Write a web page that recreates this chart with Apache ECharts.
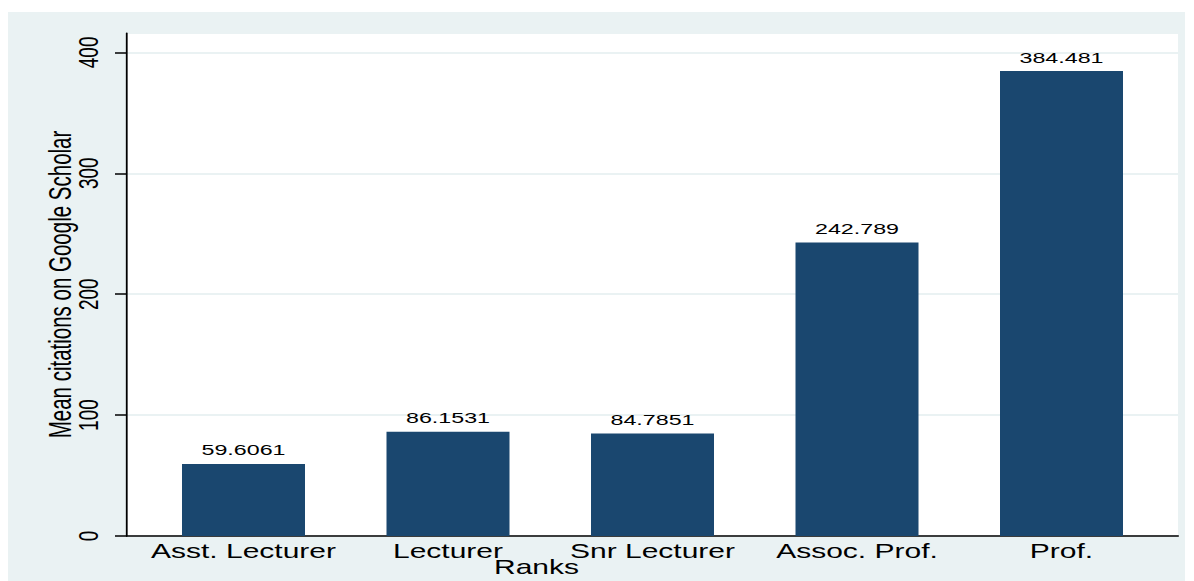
<!DOCTYPE html>
<html><head><meta charset="utf-8">
<script src="https://cdn.jsdelivr.net/npm/echarts@6/dist/echarts.min.js"></script>
<style>
html,body{margin:0;padding:0;background:#fff;overflow:hidden;width:1194px;height:581px;}
#bg{position:absolute;left:8px;top:12px;width:1177px;height:569px;background:#eaf2f3;}
#chart{position:absolute;left:0;top:0;width:796px;height:581px;transform:scaleX(1.5);transform-origin:0 0;}
</style></head><body>
<div id="bg"></div><div id="chart"></div>
<script>
const categories = ['Asst. Lecturer', 'Lecturer', 'Snr Lecturer', 'Assoc. Prof.', 'Prof.'];
const meanCitations = [59.6061, 86.1531, 84.7851, 242.789, 384.481];
const yAxisTitle = 'Mean citations on Google Scholar';
const xAxisTitle = 'Ranks';
const yMin = 0, yMax = 416, yStep = 100;

const S = 1.5; // horizontal stretch of the reference
const FONT = 'Liberation Sans, Arial, Helvetica, sans-serif';
const chart = echarts.init(document.getElementById('chart'), null, {renderer: 'svg'});
chart.setOption({
  animation: false,
  textStyle: {fontFamily: FONT},
  title: {
    text: xAxisTitle, left: 536.5 / S, top: 557, textAlign: 'center', padding: 0,
    textStyle: {fontSize: 20, fontWeight: 'normal', color: '#000', fontFamily: FONT, lineHeight: 20}
  },
  grid: [
    {left: 127 / S, right: (1194 - 1178) / S, top: 33, bottom: 45, show: true, backgroundColor: '#ffffff', borderWidth: 0, containLabel: false, outerBoundsMode: 'none'},
    {left: 141.25 / S, right: (1194 - 1163.75) / S, top: 33, bottom: 45, containLabel: false, outerBoundsMode: 'none'}
  ],
  xAxis: [
    {gridIndex: 0, type: 'value', min: 0, max: 1, position: 'bottom',
     axisLine: {show: true, onZero: false, lineStyle: {color: '#000', width: 1.5}},
     axisTick: {show: false}, axisLabel: {show: false}, splitLine: {show: false}},
    {gridIndex: 1, type: 'category', data: categories, position: 'bottom',
     axisLine: {show: false}, axisTick: {show: false},
     axisLabel: {fontSize: 20, color: '#000', margin: 5, interval: 0, hideOverlap: false, fontFamily: FONT}}
  ],
  yAxis: [
    {gridIndex: 0, type: 'value', min: yMin, max: yMax, interval: yStep,
     axisLine: {show: true, lineStyle: {color: '#000', width: 1.2}},
     axisTick: {show: true, length: 8, lineStyle: {color: '#000', width: 1.5}},
     axisLabel: {rotate: 90, fontSize: 19, color: '#000', margin: 16.5, align: 'center', verticalAlign: 'bottom', showMaxLabel: false, fontFamily: FONT},
     splitLine: {show: true, lineStyle: {color: '#eaf2f3', width: 2}},
     name: yAxisTitle, nameLocation: 'middle', nameGap: 34, nameRotate: 90, nameMoveOverlap: false,
     nameTextStyle: {fontSize: 20.5, color: '#000', fontFamily: FONT}},
    {gridIndex: 1, type: 'value', min: yMin, max: yMax, show: false}
  ],
  series: [{
    type: 'bar', xAxisIndex: 1, yAxisIndex: 1, data: meanCitations, barWidth: 123 / S,
    itemStyle: {color: '#1a476f'},
    label: {show: true, position: 'top', distance: 6, fontSize: 15.5, color: '#000', fontFamily: FONT}
  }]
});
</script></body></html>
